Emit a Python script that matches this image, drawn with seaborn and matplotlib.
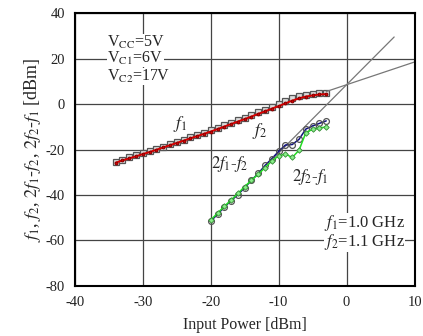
import numpy as np
import pandas as pd
import matplotlib
matplotlib.use("Agg")
import matplotlib.pyplot as plt
import seaborn as sns

# fundamental tones, input -34..-3 dBm
pin_fund = list(range(-34, -2))
f1_out = [-25.4, -24.4, -23.5, -22.6, -21.6, -20.7, -19.7, -18.7, -17.7, -16.7,
          -15.7, -14.7, -13.7, -12.6, -11.6, -10.5, -9.4, -8.3, -7.2, -6.0,
          -4.8, -3.6, -2.4, -1.2, 0.0, 1.3, 2.5, 3.4, 4.0, 4.4, 4.7, 4.9]
f2_out = [-25.8, -24.8, -23.9, -23.0, -22.0, -21.1, -20.1, -19.1, -18.1, -17.1,
          -16.1, -15.1, -14.1, -13.1, -12.1, -11.0, -9.9, -8.8, -7.7, -6.6,
          -5.5, -4.3, -3.2, -2.0, -0.9, 0.3, 1.5, 2.5, 3.3, 3.8, 4.2, 4.4]

# third order intermod, input -20..-3 dBm
pin_im3 = list(range(-20, -2))
im3_low = [-51.5, -48.5, -45.3, -42.5, -39.8, -36.8, -33.5, -30.5, -27.0,
           -24.0, -20.8, -18.0, -17.8, -15.5, -11.0, -9.6, -8.5, -7.4]
im3_high = [-51.0, -48.0, -45.0, -42.2, -39.3, -36.3, -33.5, -30.8, -28.0,
            -25.0, -22.8, -22.0, -23.5, -20.3, -12.6, -11.1, -10.5, -10.1]

# extrapolated slope-1 and slope-3 lines (endpoints)
ext1_x = [-3, 10]
ext1_y = [5.5, 18.5]
ext3_x = [-11, 7]
ext3_y = [-24.5, 29.5]

sns.set_style("white")
plt.rcParams["font.family"] = ["Liberation Serif", "DejaVu Serif"]
plt.rcParams["mathtext.fontset"] = "stix"
plt.rcParams["axes.unicode_minus"] = False

fig = plt.figure(figsize=(4.23, 3.36), dpi=100)
ax = fig.add_axes([0.177, 0.149, 0.803, 0.812])

ax.set_xlim(-40, 10)
ax.set_ylim(-80, 40)
ax.set_xticks([-40, -30, -20, -10, 0, 10])
ax.set_yticks([-80, -60, -40, -20, 0, 20, 40])
ax.grid(True, color="#444444", lw=0.9)
ax.set_axisbelow(True)
for s in ax.spines.values():
    s.set_color("black")
    s.set_linewidth(1.5)
ax.tick_params(length=0, labelsize=10.5, pad=7, colors="#222222")

fund = pd.DataFrame({"pin": pin_fund, "f1": f1_out, "f2": f2_out})
im3 = pd.DataFrame({"pin": pin_im3, "low": im3_low, "high": im3_high})

sns.lineplot(data=fund, x="pin", y="f1", ax=ax, color="black", lw=1.0,
             marker="s", markersize=4.2, markerfacecolor="#dddddd",
             markeredgecolor="#555555", markeredgewidth=0.9)
sns.lineplot(data=fund, x="pin", y="f2", ax=ax, color="#dd0000", lw=1.4,
             marker="o", markersize=2, markeredgecolor="#880000")
ax.plot(ext1_x, ext1_y, color="#777777", lw=0.9)
ax.plot(ext3_x, ext3_y, color="#777777", lw=0.9)
sns.lineplot(data=im3, x="pin", y="low", ax=ax, color="#101080", lw=1.1,
             marker="o", markersize=4.2, markerfacecolor="none",
             markeredgecolor="#555555", markeredgewidth=0.9)
sns.lineplot(data=im3, x="pin", y="high", ax=ax, color="#22dd22", lw=1.1,
             marker="D", markersize=2.8, markerfacecolor="#88ee88",
             markeredgecolor="#338833", markeredgewidth=0.6)

box = dict(facecolor="white", edgecolor="none", pad=0.1)
ax.text(-35.2, 26.9, r"V$_{\rm CC}$=5V", fontsize=11.5, va="center", bbox=box)
ax.text(-35.2, 20.1, r"V$_{\rm C1}$=6V", fontsize=11.5, va="center", bbox=box)
ax.text(-35.2, 12.1, r"V$_{\rm C2}$=17V", fontsize=11.5, va="center", bbox=box)
ax.text(-24.5, -8.8, r"$f_1$", fontsize=12.5, ha="center", va="center")
ax.text(-12.8, -11.8, r"$f_2$", fontsize=12.5, ha="center", va="center")
ax.text(-19.9, -26.3, r"$2f_1$-$f_2$", fontsize=12, va="center")
ax.text(-8.0, -32.0, r"$2f_2$-$f_1$", fontsize=12, va="center")
ax.text(-3.3, -52.5, r"$f_1$=1.0 GHz", fontsize=12, va="center", bbox=box)
ax.text(-3.3, -60.8, r"$f_2$=1.1 GHz", fontsize=12, va="center", bbox=box)

ax.set_xlabel("Input Power [dBm]", fontsize=11.5, labelpad=6)
ax.set_ylabel(r"$f_1$, $f_2$, $2f_1$-$f_2$, $2f_2$-$f_1$ [dBm]", fontsize=13,
              labelpad=2)

fig.savefig("out.png", dpi=100)
